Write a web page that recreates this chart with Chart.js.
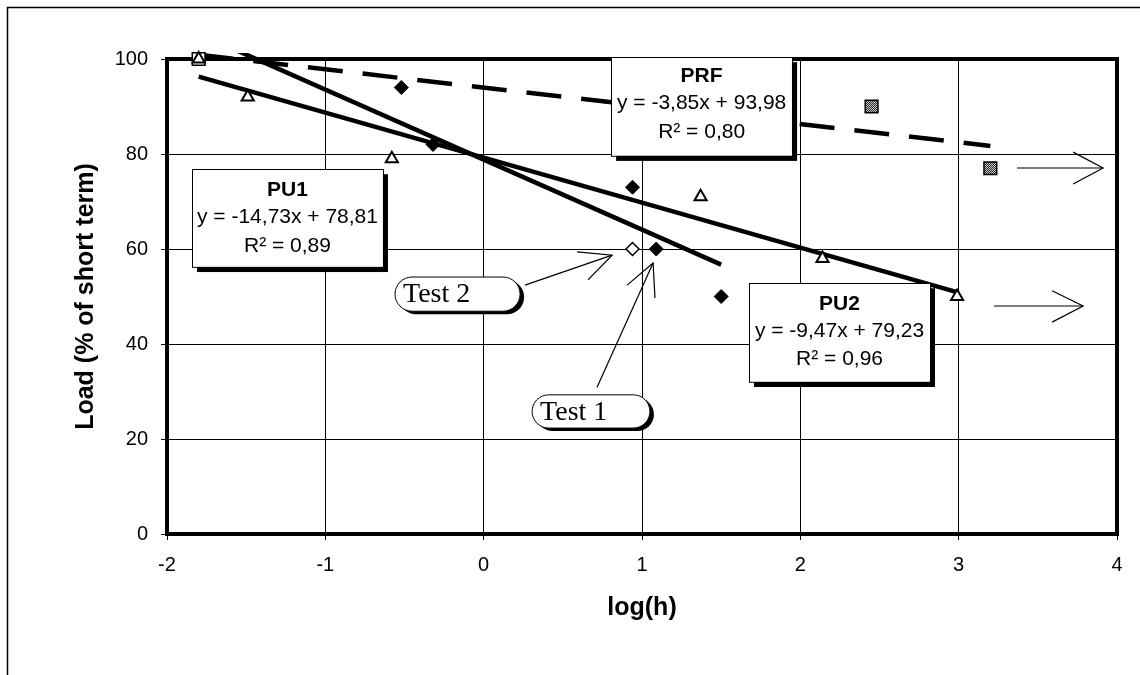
<!DOCTYPE html>
<html>
<head>
<meta charset="utf-8">
<script src="https://cdn.jsdelivr.net/npm/chart.js@4.4.0/dist/chart.umd.min.js"></script>
<style>
  html, body { margin: 0; padding: 0; background: #fff; }
  canvas { display: block; }
</style>
</head>
<body>
<canvas id="chart" width="1140" height="675"></canvas>
<script>
// measured points, x = log(h), y = load (% of short term)
const prfX = [-1.8, 2.45, 3.2];
const prfY = [100, 90, 77];
const pu1X = [-0.52, -0.32, 0.94, 1.09, 1.5];
const pu1Y = [94, 82, 73, 60, 50];
const pu2X = [-1.8, -1.49, -0.58, 1.37, 2.14, 2.99];
const pu2Y = [100, 92, 79, 71, 58, 50];
const test2X = [0.94];
const test2Y = [60];

// trend line end points
const prfTrendX = [-1.8, 3.2];
const prfTrendY = [100.9, 81.7];
const pu1TrendX = [-1.6, 1.5];
const pu1TrendY = [102.4, 56.7];
const pu2TrendX = [-1.8, 3.0];
const pu2TrendY = [96.3, 50.8];

// text of the equation boxes
const prfLabel = ['PRF', 'y = -3,85x + 93,98', 'R² = 0,80'];
const pu1Label = ['PU1', 'y = -14,73x + 78,81', 'R² = 0,89'];
const pu2Label = ['PU2', 'y = -9,47x + 79,23', 'R² = 0,96'];

const pts = (xs, ys) => xs.map((x, i) => ({ x: x, y: ys[i] }));

// grey hatched fill for PRF squares
const pc = document.createElement('canvas');
pc.width = 2; pc.height = 2;
const pctx = pc.getContext('2d');
pctx.fillStyle = '#2a2a2a'; pctx.fillRect(0, 0, 2, 2);
pctx.fillStyle = '#c8c8c8'; pctx.fillRect(0, 0, 1, 1); pctx.fillRect(1, 1, 1, 1);
const prfPattern = pctx.createPattern(pc, 'repeat');

const FONT = '"Liberation Sans", Arial, sans-serif';
Chart.defaults.font.family = FONT;
Chart.defaults.color = '#000';

// annotations placed in data units, converted with the chart scales
const boxes = [
  { x0: 0.805, x1: 1.948, y0: 100.4, y1: 79.6, lines: prfLabel, offs: [19, 46, 75] },
  { x0: -1.842, x1: -0.636, y0: 76.8, y1: 56.2, lines: pu1Label, offs: [21, 48, 77] },
  { x0: 1.676, x1: 2.819, y0: 52.8, y1: 32.0, lines: pu2Label, offs: [21, 48, 76] }
];
const pills = [
  { text: 'Test 2', x0: -0.56, x1: 0.23, y0: 54.1, y1: 46.9 },
  { text: 'Test 1', x0: 0.306, x1: 1.05, y0: 29.3, y1: 22.3 }
];
const arrows = [
  { line: [[0.261, 52.4], [0.811, 58.7]], head: [[0.59, 59.4], [0.811, 58.7], [0.659, 53.5]] },
  { line: [[0.716, 30.9], [1.07, 57.05]], head: [[0.906, 52.4], [1.07, 57.05], [1.082, 49.7]] },
  { line: [[3.369, 77.05], [3.912, 77.05]], head: [[3.723, 80.4], [3.912, 77.05], [3.723, 73.7]] },
  { line: [[3.223, 48.0], [3.786, 48.0]], head: [[3.59, 51.2], [3.786, 48.0], [3.59, 44.6]] }
];

function pillPath(ctx, l, t, r, b) {
  const rad = (b - t) / 2;
  ctx.beginPath();
  ctx.moveTo(l + rad, t);
  ctx.lineTo(r - rad, t);
  ctx.arc(r - rad, t + rad, rad, -Math.PI / 2, Math.PI / 2);
  ctx.lineTo(l + rad, b);
  ctx.arc(l + rad, t + rad, rad, Math.PI / 2, Math.PI * 1.5);
  ctx.closePath();
}

const annotPlugin = {
  id: 'annot',
  beforeDraw(chart) {
    const ctx = chart.ctx;
    ctx.save();
    ctx.fillStyle = '#fff';
    ctx.fillRect(0, 0, chart.width, chart.height);
    // outer frame of the figure
    ctx.strokeStyle = '#000';
    ctx.lineWidth = 1.5;
    ctx.strokeRect(7.5, 7.5, chart.width + 10, chart.height + 10);
    ctx.restore();
  },
  beforeDatasetsDraw(chart) {
    const { ctx, chartArea: a } = chart;
    ctx.save();
    ctx.strokeStyle = '#000';
    ctx.lineWidth = 4;
    ctx.strokeRect(a.left, a.top, a.right - a.left, a.bottom - a.top);
    ctx.restore();
  },
  afterDatasetsDraw(chart) {
    const ctx = chart.ctx;
    const sx = chart.scales.x, sy = chart.scales.y;
    const P = (x, y) => [sx.getPixelForValue(x), sy.getPixelForValue(y)];
    ctx.save();

    // equation boxes with drop shadow
    boxes.forEach(b => {
      const [l, t] = P(b.x0, b.y0);
      const [r, bt] = P(b.x1, b.y1);
      ctx.fillStyle = '#000';
      ctx.fillRect(l + 5, t + 5, r - l, bt - t);
      ctx.fillStyle = '#fff';
      ctx.fillRect(l, t, r - l, bt - t);
      ctx.strokeStyle = '#000';
      ctx.lineWidth = 1;
      ctx.strokeRect(Math.round(l) + 0.5, Math.round(t) + 0.5, r - l, bt - t);
      ctx.fillStyle = '#000';
      ctx.textAlign = 'center';
      ctx.textBaseline = 'middle';
      b.lines.forEach((s, i) => {
        ctx.font = (i === 0 ? 'bold ' : '') + '21px ' + FONT;
        ctx.fillText(s, (l + r) / 2, t + b.offs[i]);
      });
    });

    // callout arrows
    ctx.strokeStyle = '#000';
    ctx.lineWidth = 1.2;
    arrows.forEach(a => {
      [a.line, a.head].forEach(seg => {
        ctx.beginPath();
        seg.forEach((p, i) => {
          const [px, py] = P(p[0], p[1]);
          if (i === 0) ctx.moveTo(px, py); else ctx.lineTo(px, py);
        });
        ctx.stroke();
      });
    });

    // rounded callout labels
    pills.forEach(p => {
      const [l, t] = P(p.x0, p.y0);
      const [r, b] = P(p.x1, p.y1);
      ctx.fillStyle = '#000';
      pillPath(ctx, l + 4, t + 3, r + 4, b + 3);
      ctx.fill();
      ctx.fillStyle = '#fff';
      pillPath(ctx, l, t, r, b);
      ctx.fill();
      ctx.lineWidth = 1;
      ctx.stroke();
      ctx.fillStyle = '#000';
      ctx.textAlign = 'left';
      ctx.textBaseline = 'middle';
      ctx.font = '28px "Liberation Serif", "Times New Roman", serif';
      ctx.fillText(p.text, l + 8, (t + b) / 2 + 1);
    });
    ctx.restore();
  }
};

const trend = (data, dash) => ({
  type: 'line',
  data: data,
  showLine: true,
  borderColor: '#000',
  borderWidth: 4.5,
  borderDash: dash,
  pointRadius: 0,
  fill: false,
  tension: 0,
  clip: 6
});

new Chart(document.getElementById('chart'), {
  type: 'scatter',
  data: {
    datasets: [
      {
        label: 'Test 2',
        data: pts(test2X, test2Y),
        pointStyle: 'rectRot',
        pointRadius: 6.5,
        pointBackgroundColor: '#fff',
        pointBorderColor: '#000',
        pointBorderWidth: 1.5
      },
      {
        label: 'PU1',
        data: pts(pu1X, pu1Y),
        pointStyle: 'rectRot',
        pointRadius: 7,
        pointBackgroundColor: '#000',
        pointBorderColor: '#000',
        pointBorderWidth: 1
      },
      {
        label: 'PU2',
        data: pts(pu2X, pu2Y),
        pointStyle: 'triangle',
        pointRadius: 7,
        pointBackgroundColor: '#fff',
        pointBorderColor: '#000',
        pointBorderWidth: 2,
        clip: 12
      },
      {
        label: 'PRF',
        data: pts(prfX, prfY),
        pointStyle: 'rect',
        pointRadius: 9,
        pointBackgroundColor: c => (c.dataIndex === 0 ? '#fff' : prfPattern),
        pointBorderColor: '#000',
        pointBorderWidth: 1.5,
        clip: 12
      },
      trend(pts(pu1TrendX, pu1TrendY), []),
      trend(pts(pu2TrendX, pu2TrendY), []),
      trend(pts(prfTrendX, prfTrendY), [35, 20])
    ]
  },
  options: {
    responsive: false,
    animation: false,
    devicePixelRatio: 1,
    layout: { padding: { top: 59, right: 23, bottom: 0, left: 0 } },
    plugins: {
      legend: { display: false },
      tooltip: { enabled: false }
    },
    scales: {
      x: {
        type: 'linear',
        min: -2,
        max: 4,
        ticks: { stepSize: 1, color: '#000', font: { size: 20 }, padding: 13 },
        grid: { color: '#000', lineWidth: 1, tickLength: 6 },
        border: { display: false },
        title: {
          display: true,
          text: 'log(h)',
          color: '#000',
          font: { size: 25, weight: 'bold' },
          padding: { top: 0, bottom: 52 }
        },
        afterFit(s) { s.height = 141; }
      },
      y: {
        min: 0,
        max: 100,
        ticks: { stepSize: 20, color: '#000', font: { size: 20 }, padding: 13 },
        grid: { color: '#000', lineWidth: 1, tickLength: 6 },
        border: { display: false },
        title: {
          display: true,
          text: 'Load (% of short term)',
          color: '#000',
          font: { size: 25, weight: 'bold' },
          padding: { top: 71, bottom: 0 }
        },
        afterFit(s) { s.width = 167; }
      }
    }
  },
  plugins: [annotPlugin]
});
</script>
</body>
</html>
